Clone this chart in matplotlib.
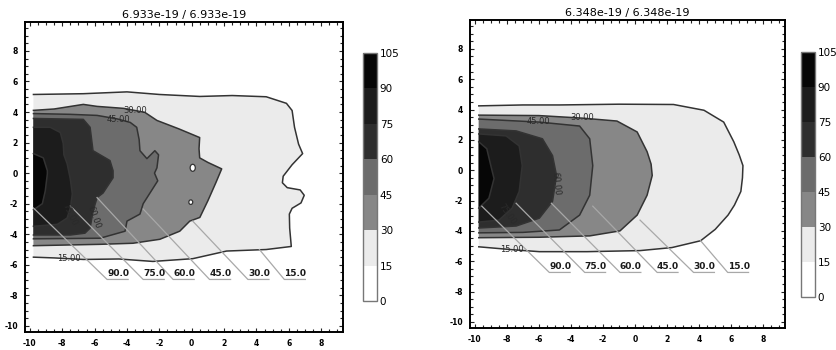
import matplotlib
matplotlib.use("Agg")
import matplotlib.pyplot as plt
from matplotlib.colors import ListedColormap, BoundaryNorm
from matplotlib.cm import ScalarMappable
from matplotlib.patches import Polygon, Ellipse
from matplotlib.ticker import MultipleLocator

plt.rcParams['font.family'] = ['Liberation Sans Narrow', 'DejaVu Sans']
plt.rcParams['axes.unicode_minus'] = False

# contour levels and fill shades (0-15 ... 90-105)
levels = [0, 15, 30, 45, 60, 75, 90, 105]
shades = ['#ffffff', '#ebebeb', '#878787', '#6c6c6c', '#2e2e2e', '#1c1c1c', '#060606']

titles = ['6.933e-19 / 6.933e-19', '6.348e-19 / 6.348e-19']

# left panel contour boundaries (x, y), open at the left edge of the data
left_c15 = [(-9.78, 5.15), (-6.7, 5.2), (-4.0, 5.32), (-2.0, 5.15), (0.5, 5.02), (2.5, 5.08),
            (4.6, 5.0), (5.85, 4.57), (6.2, 4.1), (6.35, 3.0), (6.6, 1.9), (6.85, 1.28),
            (6.2, 0.55), (5.65, -0.2), (5.6, -0.63), (5.9, -0.95), (6.7, -1.1), (6.95, -1.45),
            (6.75, -1.95), (6.2, -2.3), (6.03, -2.68), (6.05, -3.6), (6.15, -4.8), (4.6, -5.0),
            (2.15, -5.1), (0.06, -5.6), (-2.4, -5.78), (-4.5, -5.62), (-6.7, -5.65),
            (-8.5, -5.55), (-9.78, -5.5)]
left_c30 = [(-9.78, 4.11), (-8.5, 4.2), (-6.7, 4.5), (-5.85, 4.37), (-4.2, 4.24), (-2.9, 3.98),
            (-2.15, 3.45), (-0.8, 2.9), (0.49, 2.33), (0.45, 1.6), (0.49, 1.0), (1.0, 0.7),
            (1.85, 0.28), (1.5, -0.6), (1.0, -1.8), (0.5, -2.9), (-0.12, -3.14), (-0.74, -3.8),
            (-1.97, -4.33), (-3.63, -4.59), (-5.66, -4.66), (-9.78, -4.75)]
left_c45 = [(-9.78, 3.9), (-7.5, 3.85), (-5.85, 3.78), (-4.6, 3.55), (-3.8, 3.32), (-3.4, 3.0),
            (-3.25, 2.2), (-3.2, 1.47), (-2.77, 0.95), (-2.46, 1.28), (-2.28, 1.47),
            (-2.05, 1.2), (-2.15, 0.35), (-2.3, 0.0), (-2.1, -0.5), (-2.4, -1.0), (-3.0, -2.0),
            (-3.2, -2.68), (-4.0, -3.14), (-4.12, -3.8), (-5.66, -4.26), (-9.78, -4.3)]
left_c60 = [(-9.78, 3.58), (-6.7, 3.52), (-6.28, 3.0), (-6.1, 1.47), (-5.05, 0.82),
            (-4.86, 0.16), (-4.86, -0.3), (-5.48, -1.3), (-5.85, -1.6), (-6.1, -2.5),
            (-6.28, -3.6), (-6.6, -3.93), (-7.5, -4.05), (-9.78, -4.05)]
left_c75 = [(-9.78, 3.0), (-8.74, 3.0), (-8.12, 2.66), (-7.94, 1.94), (-7.9, 1.2), (-7.7, 0.62),
            (-7.5, -0.4), (-7.38, -1.36), (-7.5, -2.28), (-7.7, -2.94), (-8.3, -3.35),
            (-9.78, -3.48)]
left_c90 = [(-9.78, 1.28), (-9.17, 1.0), (-8.92, 0.16), (-8.92, -0.04), (-9.05, -1.16),
            (-9.23, -2.0), (-9.78, -2.4)]
# small holes below 15 inside the 30 band (x, y, width, height)
left_holes = [(0.06, 0.35, 0.32, 0.46), (-0.06, -1.9, 0.24, 0.3)]

# right panel contour boundaries
right_c15 = [(-9.75, 4.24), (-7.0, 4.3), (-4.72, 4.3), (-1.0, 4.35), (2.4, 4.33), (4.3, 3.95),
             (5.53, 3.17), (6.16, 1.87), (6.5, 1.0), (6.73, 0.3), (6.7, -0.5), (6.6, -1.4),
             (6.2, -2.3), (5.8, -2.96), (5.0, -3.9), (4.09, -4.65), (2.3, -5.1), (0.31, -5.3),
             (-3.0, -5.37), (-5.97, -5.37), (-7.67, -5.24), (-9.75, -5.05)]
right_c30 = [(-9.75, 3.63), (-6.0, 3.6), (-3.27, 3.43), (-1.13, 3.24), (0.13, 2.52),
             (0.75, 1.22), (1.0, 0.4), (1.07, -0.35), (0.75, -1.65), (0.13, -2.96),
             (-0.94, -4.0), (-2.83, -4.33), (-6.0, -4.42), (-9.75, -4.45)]
right_c45 = [(-9.75, 3.37), (-5.97, 3.17), (-3.46, 2.91), (-2.83, 2.07), (-2.64, 0.3),
             (-2.83, -1.65), (-3.46, -2.96), (-4.72, -3.94), (-7.0, -4.1), (-9.75, -4.13)]
right_c60 = [(-9.75, 2.72), (-7.42, 2.59), (-5.78, 2.07), (-5.15, 0.96), (-4.9, -0.35),
             (-5.15, -2.05), (-5.97, -3.16), (-7.42, -3.68), (-9.75, -3.81)]
right_c75 = [(-9.75, 2.39), (-8.05, 2.26), (-7.23, 1.6), (-7.04, 0.3), (-7.23, -1.4),
             (-7.67, -2.5), (-8.49, -3.29), (-9.75, -3.42)]
right_c90 = [(-9.75, 1.87), (-9.25, 1.41), (-9.0, 0.3), (-8.8, -0.55), (-9.12, -1.85),
             (-9.75, -2.5)]
right_holes = []

# inline contour labels (text, x, y, rotation)
left_inline = [('30.00', -3.5, 4.12, 0), ('45.00', -4.55, 3.5, 0), ('15.00', -7.6, -5.6, 0),
               ('60.00', -6.05, -2.9, -70), ('75.00', -7.55, -2.75, -65)]
right_inline = [('30.00', -3.3, 3.45, 0), ('45.00', -6.0, 3.2, 0), ('15.00', -7.7, -5.2, 0),
                ('60.00', -4.95, -0.9, -85), ('75.00', -8.0, -2.9, -55)]

# callout labels with leader lines
callout_text = ['90.0', '75.0', '60.0', '45.0', '30.0', '15.0']
left_lead_start = [(-9.78, -2.28), (-7.5, -2.15), (-5.85, -1.6), (-3.0, -2.35), (0.06, -3.14),
                   (4.18, -5.0)]
left_lead_end_x = [-5.23, -3.0, -1.15, 1.1, 3.47, 5.72]
left_lead_y = -6.96
right_lead_start = [(-9.56, -2.37), (-7.42, -2.18), (-5.22, -2.18), (-2.64, -2.37),
                    (0.31, -3.29), (4.09, -4.65)]
right_lead_end_x = [-5.35, -3.14, -0.94, 1.38, 3.65, 5.78]
right_lead_y = -6.74

panels = [
    dict(contours=[left_c15, left_c30, left_c45, left_c60, left_c75, left_c90],
         holes=left_holes, inline=left_inline, lead_start=left_lead_start,
         lead_end_x=left_lead_end_x, lead_y=left_lead_y,
         ax_rect=[0.0299, 0.0514, 0.380, 0.886], cb_rect=[0.4337, 0.14, 0.0167, 0.7086]),
    dict(contours=[right_c15, right_c30, right_c45, right_c60, right_c75, right_c90],
         holes=right_holes, inline=right_inline, lead_start=right_lead_start,
         lead_end_x=right_lead_end_x, lead_y=right_lead_y,
         ax_rect=[0.5615, 0.0629, 0.3763, 0.88], cb_rect=[0.9570, 0.1514, 0.0167, 0.70]),
]

line_color = '#333333'
lead_color = '#a8a8a8'

fig = plt.figure(figsize=(8.37, 3.5), dpi=100)
cmap = ListedColormap(shades)
norm = BoundaryNorm(levels, cmap.N)

for p, title in zip(panels, titles):
    ax = fig.add_axes(p['ax_rect'])
    ax.set_xlim(-10.3, 9.35)
    ax.set_ylim(-10.4, 9.9)

    # filled bands, outer to inner
    for i, pts in enumerate(p['contours']):
        ax.add_patch(Polygon(pts, closed=True, facecolor=shades[i + 1], edgecolor='none', zorder=1))
        xs = [q[0] for q in pts]
        ys = [q[1] for q in pts]
        ax.plot(xs, ys, color=line_color, lw=1.1, zorder=3)
    for hx, hy, hw, hh in p['holes']:
        ax.add_patch(Ellipse((hx, hy), hw, hh, facecolor='white', edgecolor=line_color,
                             lw=0.9, zorder=3))

    # leader lines to level callouts
    for txt, (sx, sy), ex in zip(callout_text, p['lead_start'], p['lead_end_x']):
        ax.plot([sx, ex, ex + 1.3], [sy, p['lead_y'], p['lead_y']], color=lead_color, lw=0.9,
                zorder=4)
        ax.text(ex + 0.68, p['lead_y'] + 0.1, txt, fontsize=6.5, ha='center', va='bottom',
                color='#1a1a1a', fontweight='bold', zorder=5)

    for txt, tx, ty, rot in p['inline']:
        ax.text(tx, ty, txt, fontsize=6, ha='center', va='center', rotation=rot,
                color='#2a2a2a', zorder=5)

    ax.set_title(title, fontsize=8, pad=3)
    ax.xaxis.set_minor_locator(MultipleLocator(0.5))
    ax.yaxis.set_minor_locator(MultipleLocator(0.5))
    ax.set_xticks(range(-10, 9, 2))
    ax.set_yticks(range(-10, 9, 2))
    ax.tick_params(which='both', direction='in', top=True, right=True, labelsize=5.5,
                   width=0.8, color='#222222', pad=5)
    ax.tick_params(which='major', length=3)
    ax.tick_params(which='minor', length=2)
    for lab in ax.get_xticklabels() + ax.get_yticklabels():
        lab.set_fontweight('bold')
    for s in ax.spines.values():
        s.set_linewidth(1.4)

    cax = fig.add_axes(p['cb_rect'])
    cb = fig.colorbar(ScalarMappable(norm=norm, cmap=cmap), cax=cax, ticks=levels)
    cb.outline.set_edgecolor('#777777')
    cb.outline.set_linewidth(1.0)
    cax.tick_params(length=0, labelsize=7.5, pad=2)

fig.savefig('out.png', dpi=100)
